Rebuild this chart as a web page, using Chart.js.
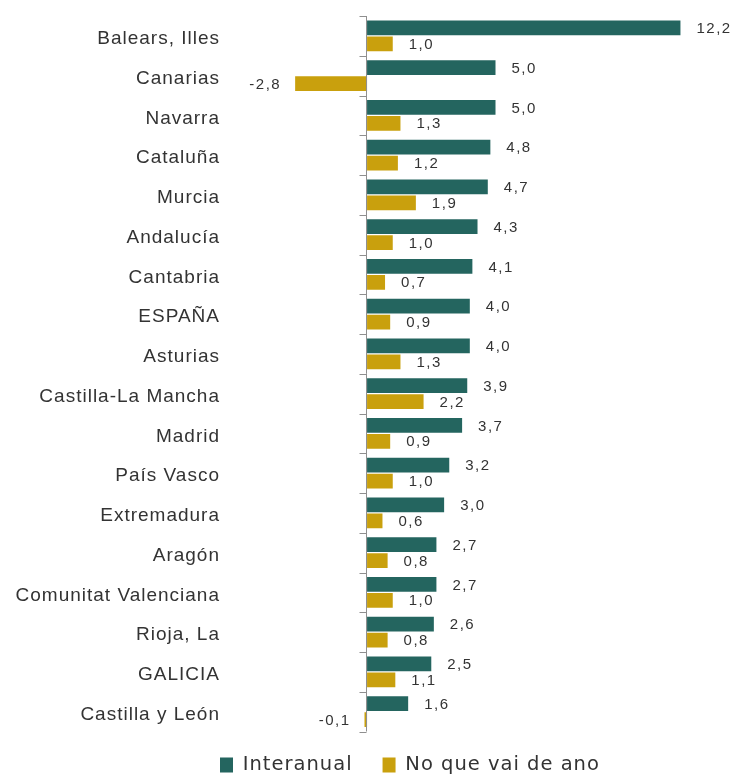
<!DOCTYPE html>
<html>
<head>
<meta charset="utf-8">
<script src="https://cdn.jsdelivr.net/npm/chart.js@4/dist/chart.umd.min.js"></script>
<style>
  html, body { margin: 0; padding: 0; background: #fff; }
  #wrap { width: 735px; height: 774px; }
</style>
</head>
<body>
<div id="wrap"><canvas id="chart"></canvas></div>
<script>
const regions = ["Balears, Illes", "Canarias", "Navarra", "Cataluña", "Murcia", "Andalucía",
  "Cantabria", "ESPAÑA", "Asturias", "Castilla-La Mancha", "Madrid", "País Vasco",
  "Extremadura", "Aragón", "Comunitat Valenciana", "Rioja, La", "GALICIA", "Castilla y León"];
const interanual = [12.2, 5.0, 5.0, 4.8, 4.7, 4.3, 4.1, 4.0, 4.0, 3.9, 3.7, 3.2, 3.0, 2.7, 2.7, 2.6, 2.5, 1.6];
const anoActual = [1.0, -2.8, 1.3, 1.2, 1.9, 1.0, 0.7, 0.9, 1.3, 2.2, 0.9, 1.0, 0.6, 0.8, 1.0, 0.8, 1.1, -0.1];

const TEAL = "#24655F";
const GOLD = "#C9A00D";
const LEGEND_PAD = 30;

// letter spacing for the stretched look of the original text
const spacing = {
  id: "spacing",
  beforeLayout(chart) { chart.ctx.letterSpacing = "1px"; },
  beforeDraw(chart) { chart.ctx.letterSpacing = "1px"; },
  // place the legend where the original has it
  afterUpdate(chart) {
    const lg = chart.legend;
    if (!lg || !lg.legendHitBoxes.length) return;
    const dx = 220 - lg.legendHitBoxes[0].left;
    const itemH = Math.max(lg.options.labels.font.size, lg.options.labels.boxHeight);
    const dy = 765 - (lg.top + LEGEND_PAD + itemH / 2);
    lg.left += dx; lg.right += dx;
    lg.top += dy; lg.bottom += dy;
    lg.legendHitBoxes.forEach(b => { b.left += dx; b.top += dy; });
  }
};

// zero axis line with small ticks between categories + value labels
const axisAndLabels = {
  id: "axisAndLabels",
  afterDatasetsDraw(chart) {
    const { ctx, chartArea, scales } = chart;
    const x0 = Math.round(scales.x.getPixelForValue(0)) - 0.5;
    const step = (chartArea.bottom - chartArea.top) / regions.length;
    ctx.save();
    ctx.strokeStyle = "#8f8f8f";
    ctx.lineWidth = 1;
    ctx.beginPath();
    ctx.moveTo(x0, chartArea.top);
    ctx.lineTo(x0, chartArea.bottom);
    for (let i = 0; i <= regions.length; i++) {
      const ty = Math.round(chartArea.top + i * step) + 0.5;
      ctx.moveTo(x0 - 7, ty);
      ctx.lineTo(x0, ty);
    }
    ctx.stroke();

    ctx.font = "15px 'Liberation Sans', Arial, sans-serif";
    ctx.letterSpacing = "1.5px";
    ctx.fillStyle = "#333";
    ctx.textBaseline = "middle";
    chart.data.datasets.forEach((ds, di) => {
      chart.getDatasetMeta(di).data.forEach((bar, i) => {
        const v = ds.data[i];
        const txt = v.toFixed(1).replace(".", ",");
        if (v >= 0) {
          ctx.textAlign = "left";
          ctx.fillText(txt, bar.x + 16, bar.y + 1);
        } else {
          ctx.textAlign = "right";
          ctx.fillText(txt, bar.x - 14, bar.y + 1);
        }
      });
    });
    ctx.restore();
  }
};

new Chart(document.getElementById("chart"), {
  type: "bar",
  data: {
    labels: regions,
    datasets: [
      { label: "Interanual", data: interanual, backgroundColor: TEAL, barPercentage: 0.92, categoryPercentage: 0.8 },
      { label: "No que vai de ano", data: anoActual, backgroundColor: GOLD, barPercentage: 0.92, categoryPercentage: 0.8 }
    ]
  },
  options: {
    indexAxis: "y",
    responsive: true,
    maintainAspectRatio: false,
    animation: false,
    layout: { padding: { top: 16, right: 34, bottom: -17, left: 0 } },
    scales: {
      x: { display: false, min: -3, max: 13 },
      y: {
        grid: { display: false, drawTicks: true, tickLength: 67 },
        border: { display: false },
        afterFit(scale) { scale.width = 290; },
        ticks: {
          padding: 3,
          labelOffset: 3,
          color: "#333",
          font: { family: "'Liberation Sans', Arial, sans-serif", size: 19 }
        }
      }
    },
    plugins: {
      tooltip: { enabled: false },
      legend: {
        display: true,
        position: "bottom",
        labels: {
          boxWidth: 13,
          boxHeight: 15,
          padding: LEGEND_PAD,
          color: "#333",
          font: { family: "'DejaVu Sans', sans-serif", size: 19.5 }
        }
      }
    }
  },
  plugins: [spacing, axisAndLabels]
});
</script>
</body>
</html>
